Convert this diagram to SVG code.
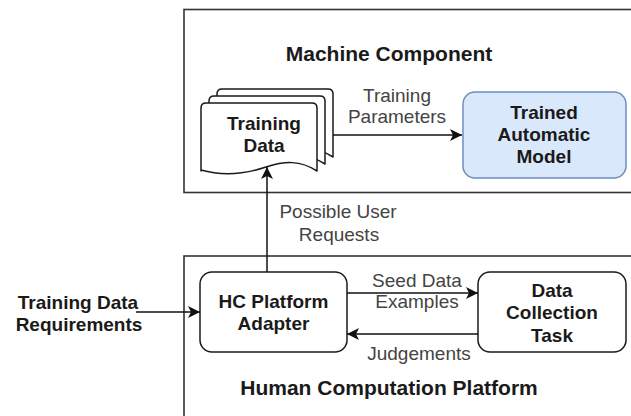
<svg xmlns="http://www.w3.org/2000/svg" width="631" height="416" viewBox="0 0 631 416">
  <style>
    .container { fill: #ffffff; stroke: #333333; stroke-width: 1.6; }
    .node { fill: #ffffff; stroke: #1a1a1a; stroke-width: 1.5; }
    .model { fill: #dae8fc; stroke: #6c8ebf; stroke-width: 1.5; }
    .page { fill: #ffffff; stroke: #1a1a1a; stroke-width: 1.5; stroke-linejoin: round; }
    .edge { fill: none; stroke: #111111; stroke-width: 1.5; }
    .title { font-family: "Liberation Sans", Arial, sans-serif; font-weight: bold; font-size: 21px; fill: #1a1a1a; text-anchor: middle; }
    .bold { font-family: "Liberation Sans", Arial, sans-serif; font-weight: bold; font-size: 19px; fill: #1a1a1a; text-anchor: middle; }
    .label { font-family: "Liberation Sans", Arial, sans-serif; font-size: 19px; fill: #444444; text-anchor: middle; }
  </style>
  <defs>
    <marker id="arrow" markerUnits="userSpaceOnUse" viewBox="0 0 12 12" markerWidth="12" markerHeight="12" refX="12" refY="6" orient="auto">
      <path d="M0,0 L12,6 L0,12 L3,6 Z" fill="#111111"/>
    </marker>
    <path id="docPage" d="M0,68 V5 Q0,0 5,0 H111 Q116,0 116,5 V68 C99,57 84,58 65,64 C44,71 21,73 0,67 Z"/>
  </defs>

  <!-- containers -->
  <g id="machine-component">
    <rect class="container" x="184" y="9.5" width="470" height="183"/>
    <text class="title" x="389" y="61">Machine Component</text>
  </g>
  <g id="human-computation-platform">
    <rect class="container" x="184" y="256" width="470" height="180"/>
    <text class="title" x="389" y="395">Human Computation Platform</text>
  </g>

  <!-- nodes -->
  <g id="training-data">
    <use href="#docPage" class="page" x="217" y="89"/>
    <use href="#docPage" class="page" x="209" y="96"/>
    <use href="#docPage" class="page" x="201" y="103"/>
    <text class="bold" x="264" y="130">Training</text>
    <text class="bold" x="264" y="152">Data</text>
  </g>

  <g id="trained-automatic-model">
    <rect class="model" x="463" y="92" width="163" height="86" rx="12" ry="12"/>
    <text class="bold" x="544" y="119">Trained</text>
    <text class="bold" x="544" y="141">Automatic</text>
    <text class="bold" x="544" y="163">Model</text>
  </g>

  <g id="hc-platform-adapter">
    <rect class="node" x="200" y="272" width="147" height="80" rx="12" ry="12"/>
    <text class="bold" x="273.5" y="308">HC Platform</text>
    <text class="bold" x="273.5" y="330">Adapter</text>
  </g>

  <g id="data-collection-task">
    <rect class="node" x="478" y="272" width="148" height="80" rx="12" ry="12"/>
    <text class="bold" x="552" y="297">Data</text>
    <text class="bold" x="552" y="319">Collection</text>
    <text class="bold" x="552" y="342">Task</text>
  </g>

  <g id="training-data-requirements">
    <text class="bold" x="78" y="309">Training Data</text>
    <text class="bold" x="79" y="331">Requirements</text>
  </g>

  <!-- connectors -->
  <g id="connectors">
    <line class="edge" x1="333" y1="135" x2="462" y2="135" marker-end="url(#arrow)"/>
    <text class="label" x="397" y="102">Training</text>
    <text class="label" x="397" y="123">Parameters</text>

    <line class="edge" x1="267" y1="272" x2="267" y2="167" marker-end="url(#arrow)"/>
    <text class="label" x="338" y="218">Possible User</text>
    <text class="label" x="339" y="241">Requests</text>

    <line class="edge" x1="136" y1="312" x2="200" y2="312" marker-end="url(#arrow)"/>

    <line class="edge" x1="347" y1="293" x2="478" y2="293" marker-end="url(#arrow)"/>
    <text class="label" x="417" y="287">Seed Data</text>
    <text class="label" x="417" y="308">Examples</text>

    <line class="edge" x1="478" y1="334" x2="347" y2="334" marker-end="url(#arrow)"/>
    <text class="label" x="419" y="360">Judgements</text>
  </g>
</svg>
